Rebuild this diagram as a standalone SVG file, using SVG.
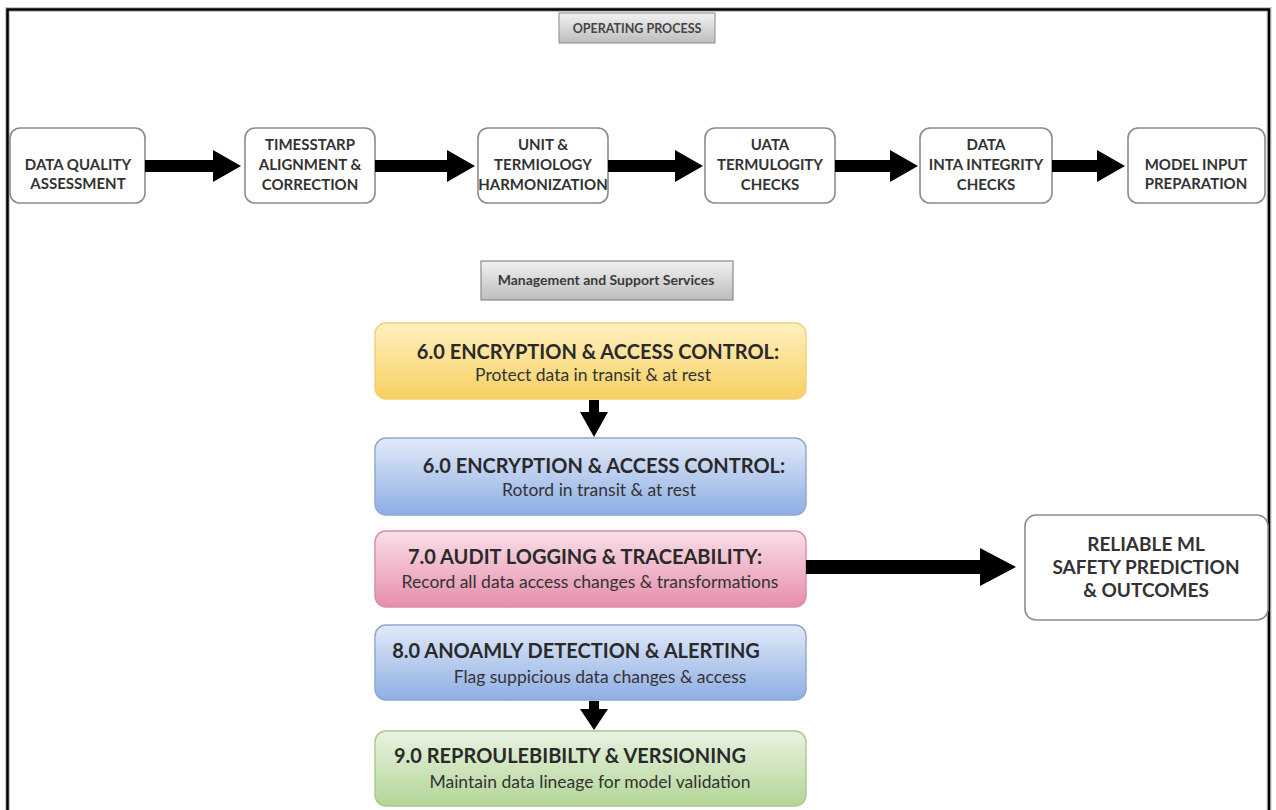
<svg xmlns="http://www.w3.org/2000/svg" width="1276" height="810" viewBox="0 0 1276 810">
  <defs>
    <linearGradient id="gGray" x1="0" y1="0" x2="0" y2="1">
      <stop offset="0" stop-color="#f2f2f2"/>
      <stop offset="1" stop-color="#bdbdbd"/>
    </linearGradient>
    <linearGradient id="gYellow" x1="0" y1="0" x2="0" y2="1">
      <stop offset="0" stop-color="#fef0c0"/>
      <stop offset="1" stop-color="#f8d062"/>
    </linearGradient>
    <linearGradient id="gBlue" x1="0" y1="0" x2="0" y2="1">
      <stop offset="0" stop-color="#e2eaf8"/>
      <stop offset="1" stop-color="#8eaee4"/>
    </linearGradient>
    <linearGradient id="gPink" x1="0" y1="0" x2="0" y2="1">
      <stop offset="0" stop-color="#f9e0e8"/>
      <stop offset="1" stop-color="#e68dab"/>
    </linearGradient>
    <linearGradient id="gGreen" x1="0" y1="0" x2="0" y2="1">
      <stop offset="0" stop-color="#eaf2e2"/>
      <stop offset="1" stop-color="#b2d696"/>
    </linearGradient>
  </defs>
  <style>
    .step { fill: #ffffff; stroke: #8c8c8c; stroke-width: 1.6; }
    .stepText { font-family: Lato, "Liberation Sans", sans-serif; font-weight: 700; font-size: 15px; fill: #333333; text-anchor: middle; }
    .label { font-family: Lato, "Liberation Sans", sans-serif; font-weight: 700; fill: #3a3a3a; text-anchor: middle; }
    .band { stroke-width: 1.4; }
    .title { font-family: Lato, "Liberation Sans", sans-serif; font-weight: 700; font-size: 20px; fill: #2a2a2a; text-anchor: middle; }
    .sub { font-family: Lato, "Liberation Sans", sans-serif; font-size: 17.5px; fill: #333333; text-anchor: middle; }
    .outText { font-family: Lato, "Liberation Sans", sans-serif; font-weight: 700; font-size: 19px; fill: #333333; text-anchor: middle; }
    .arrow { fill: #000000; }
  </style>

  <rect width="1276" height="810" fill="#ffffff"/>

  <!-- outer frame -->
  <path d="M7.5 812 V9.5 H1269 V812" fill="none" stroke="#c8c8c8" stroke-width="5"/>
  <path d="M7.5 812 V9.5 H1269 V812" fill="none" stroke="#000000" stroke-width="2.5"/>

  <!-- header labels -->
  <g id="operating-process">
    <rect x="559" y="13" width="156" height="30" fill="url(#gGray)" stroke="#9a9a9a" stroke-width="1.2"/>
    <text x="637" y="33" class="label" style="font-size:12.5px;fill:#444">OPERATING PROCESS</text>
  </g>
  <g id="management-support">
    <rect x="481" y="261" width="252" height="39" fill="url(#gGray)" stroke="#8a8a8a" stroke-width="1.2"/>
    <text x="606" y="285" class="label" style="font-size:14px">Management and Support Services</text>
  </g>

  <!-- operating process steps -->
  <g id="step-data-quality">
    <rect x="10" y="128" width="135" height="75" rx="10" class="step"/>
    <text x="78" y="170" class="stepText">DATA QUALITY</text>
    <text x="78" y="189" class="stepText">ASSESSMENT</text>
  </g>
  <g id="step-timestamp">
    <rect x="245" y="128" width="130" height="75" rx="10" class="step"/>
    <text x="310" y="150" class="stepText">TIMESSTARP</text>
    <text x="310" y="170" class="stepText">ALIGNMENT &amp;</text>
    <text x="310" y="190" class="stepText">CORRECTION</text>
  </g>
  <g id="step-harmonization">
    <rect x="478" y="128" width="130" height="75" rx="10" class="step"/>
    <text x="543" y="150" class="stepText">UNIT &amp;</text>
    <text x="543" y="170" class="stepText">TERMIOLOGY</text>
    <text x="543" y="190" class="stepText">HARMONIZATION</text>
  </g>
  <g id="step-terminology-checks">
    <rect x="705" y="128" width="130" height="75" rx="10" class="step"/>
    <text x="770" y="150" class="stepText">UATA</text>
    <text x="770" y="170" class="stepText">TERMULOGITY</text>
    <text x="770" y="190" class="stepText">CHECKS</text>
  </g>
  <g id="step-integrity-checks">
    <rect x="920" y="128" width="132" height="75" rx="10" class="step"/>
    <text x="986" y="150" class="stepText">DATA</text>
    <text x="986" y="170" class="stepText">INTA INTEGRITY</text>
    <text x="986" y="190" class="stepText">CHECKS</text>
  </g>
  <g id="step-model-input">
    <rect x="1128" y="128" width="137" height="75" rx="10" class="step"/>
    <text x="1196" y="170" class="stepText">MODEL INPUT</text>
    <text x="1196" y="189" class="stepText">PREPARATION</text>
  </g>

  <!-- management and support services -->
  <g id="svc-encryption">
    <rect x="375" y="323" width="431" height="76" rx="11" fill="url(#gYellow)" stroke="#f2cf7a" class="band"/>
    <text x="598" y="359" class="title">6.0 ENCRYPTION &amp; ACCESS CONTROL:</text>
    <text x="593" y="381" class="sub">Protect data in transit &amp; at rest</text>
  </g>
  <g id="svc-encryption-rotation">
    <rect x="375" y="438" width="431" height="77" rx="11" fill="url(#gBlue)" stroke="#8ea6cf" class="band"/>
    <text x="604" y="473" class="title">6.0 ENCRYPTION &amp; ACCESS CONTROL:</text>
    <text x="599" y="496" class="sub">Rotord in transit &amp; at rest</text>
  </g>
  <g id="svc-audit">
    <rect x="375" y="531" width="431" height="76" rx="11" fill="url(#gPink)" stroke="#d98ca4" class="band"/>
    <text x="585" y="564" class="title">7.0 AUDIT LOGGING &amp; TRACEABILITY:</text>
    <text x="590" y="588" class="sub">Record all data access changes &amp; transformations</text>
  </g>
  <g id="svc-anomaly">
    <rect x="375" y="625" width="431" height="75" rx="11" fill="url(#gBlue)" stroke="#8ea6cf" class="band"/>
    <text x="576" y="658" class="title">8.0 ANOAMLY DETECTION &amp; ALERTING</text>
    <text x="600" y="683" class="sub">Flag suppicious data changes &amp; access</text>
  </g>
  <g id="svc-reproducibility">
    <rect x="375" y="731" width="431" height="75" rx="11" fill="url(#gGreen)" stroke="#a8c88c" class="band"/>
    <text x="570" y="763" class="title">9.0 REPROULEBIBILTY &amp; VERSIONING</text>
    <text x="590" y="788" class="sub">Maintain data lineage for model validation</text>
  </g>

  <g id="outcome">
    <rect x="1025" y="515" width="243" height="105" rx="11" class="step"/>
    <text x="1146" y="551" class="outText">RELIABLE ML</text>
    <text x="1146" y="574" class="outText">SAFETY PREDICTION</text>
    <text x="1146" y="597" class="outText">&amp; OUTCOMES</text>
  </g>

  <!-- connectors: block arrows -->
  <g id="connectors" class="arrow">
    <polygon points="145,160 213,160 213,150 241,166 213,182 213,172 145,172"/>
    <polygon points="375,160 447,160 447,150 475,166 447,182 447,172 375,172"/>
    <polygon points="608,160 675,160 675,150 703,166 675,182 675,172 608,172"/>
    <polygon points="835,160 890,160 890,150 918,166 890,182 890,172 835,172"/>
    <polygon points="1052,160 1097,160 1097,150 1125,166 1097,182 1097,172 1052,172"/>
    <polygon points="589,400 599,400 599,412 608,412 594,437 580,412 589,412"/>
    <polygon points="589,701 599,701 599,709 608,709 594,730 580,709 589,709"/>
    <polygon points="806,560 980,560 980,548 1016,567 980,586 980,574 806,574"/>
  </g>
</svg>
